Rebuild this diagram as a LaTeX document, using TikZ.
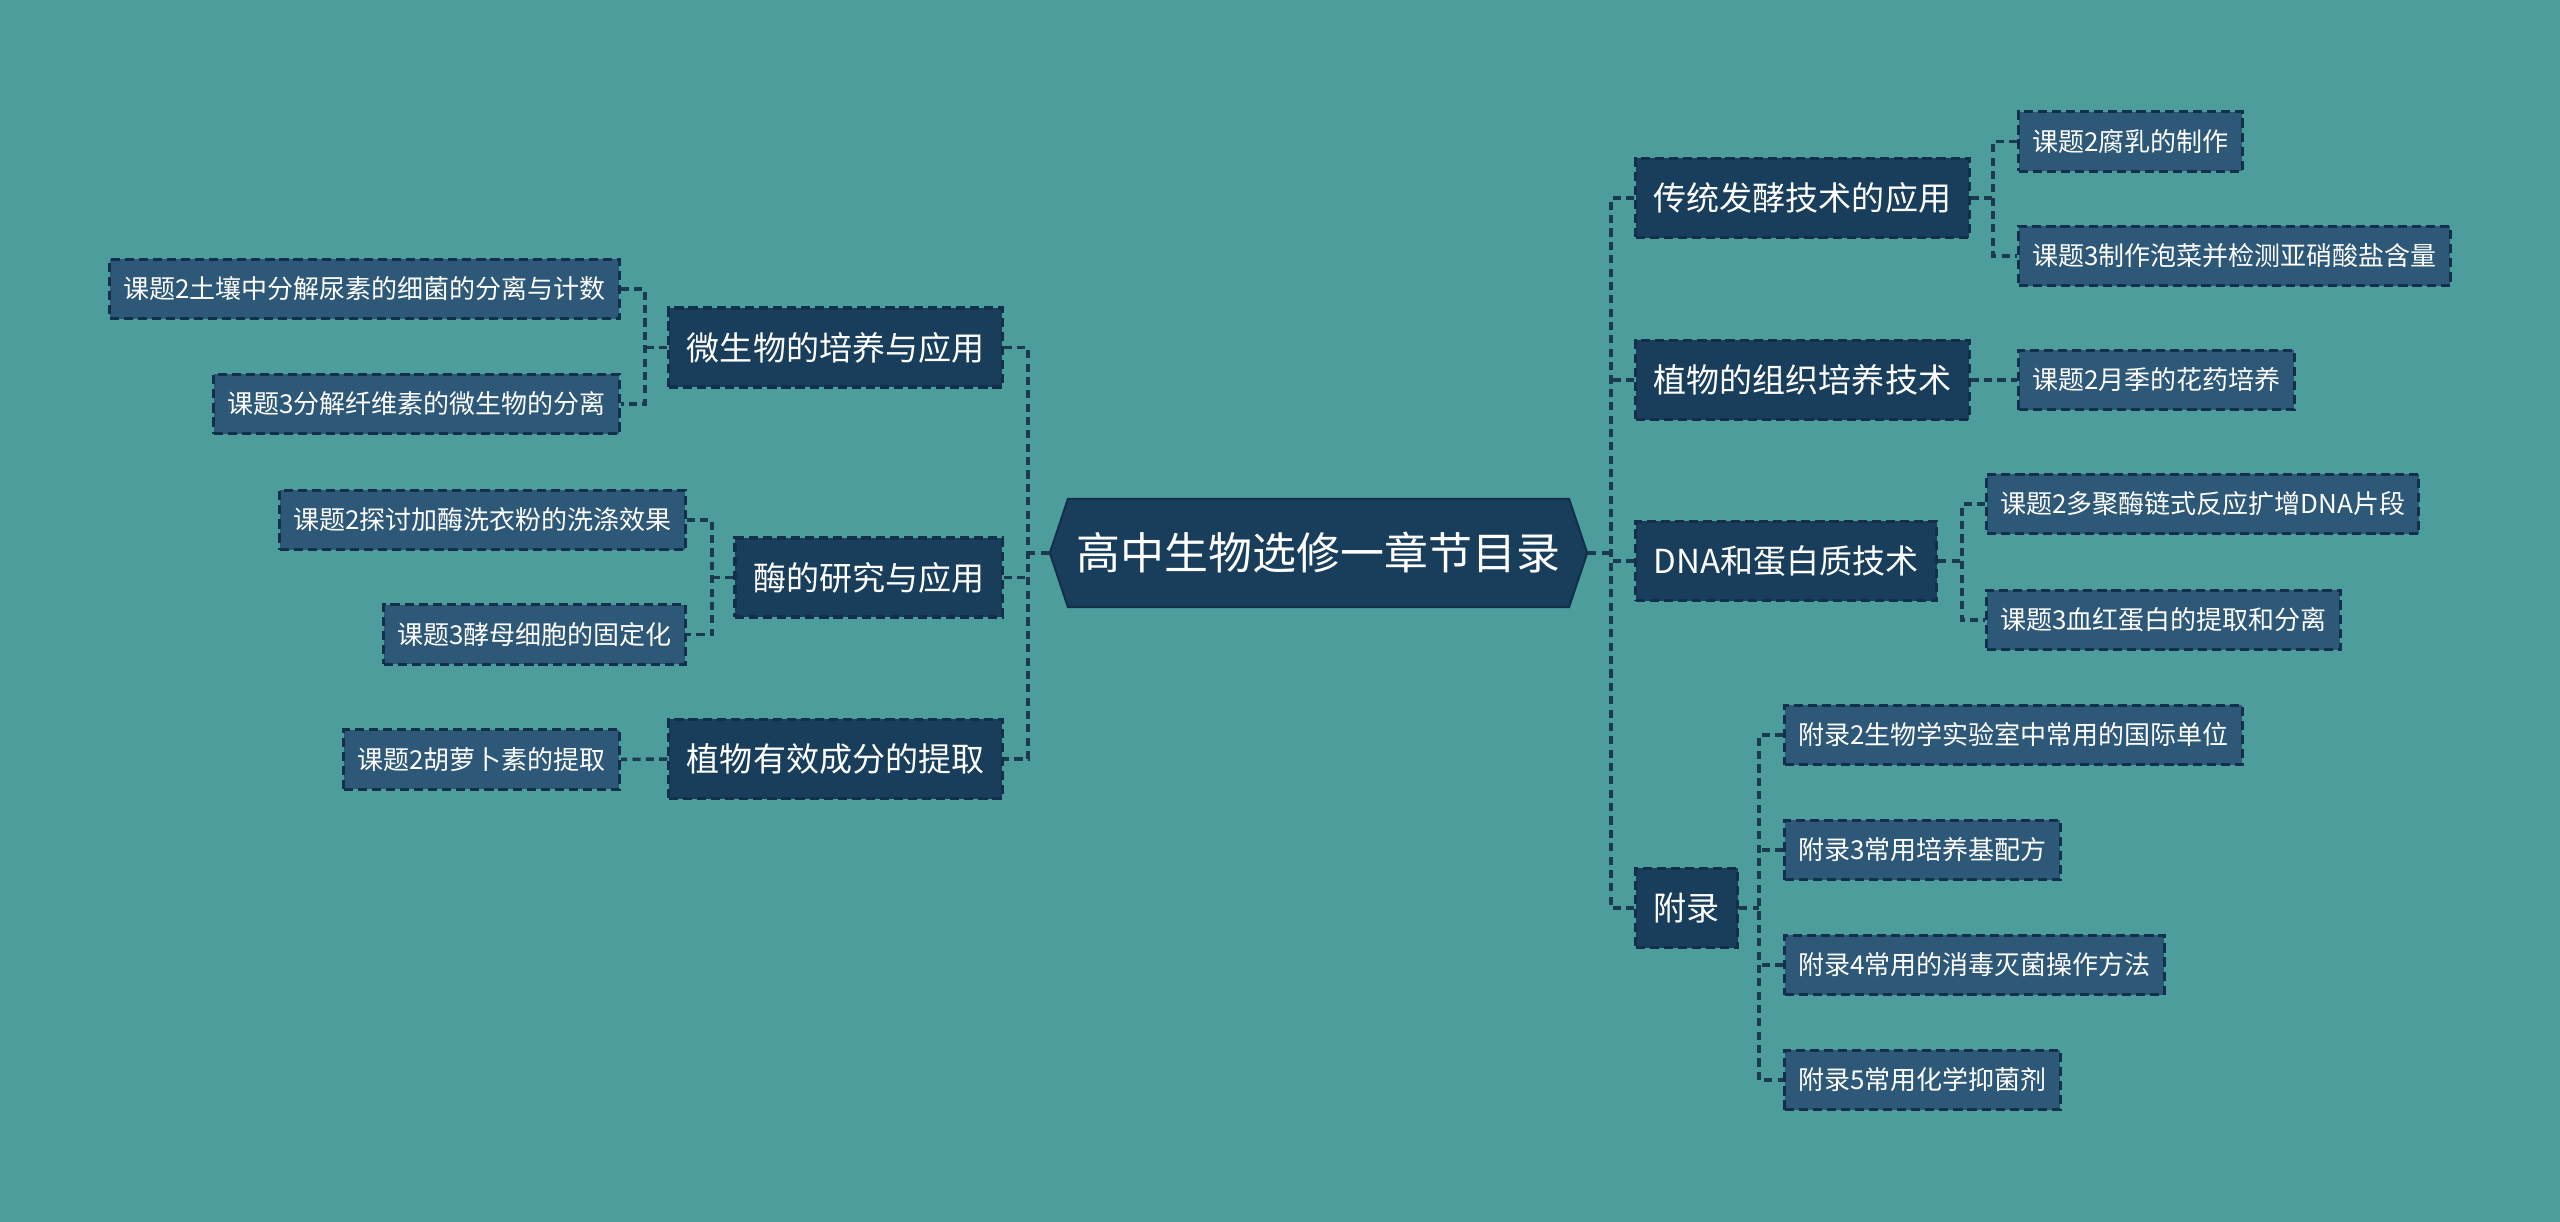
\documentclass[tikz,border=0pt]{standalone}
\usepackage{fontspec}
\setmainfont{Noto Sans CJK SC}
\usetikzlibrary{shapes.symbols}

\definecolor{bgteal}{HTML}{4E9D9D}
\definecolor{topicfill}{HTML}{183E5C}
\definecolor{leaffill}{HTML}{2D5878}
\definecolor{edgecol}{HTML}{12304A}
\definecolor{linkcol}{HTML}{1B3A50}

\tikzset{
  link/.style={draw=linkcol, line width=1pt, dash pattern=on 2.3pt off 1.5pt},
  rootbox/.style={signal, signal to=west and east, signal pointer angle=143,
    fill=topicfill, draw=edgecol, line width=0.6pt, text=white,
    minimum width=5.37cm, minimum height=1.08cm, inner sep=0pt,
    font=\fontsize{12.5pt}{15pt}\selectfont},
  topic/.style={rectangle, fill=topicfill, draw=edgecol, line width=0.9pt,
    dash pattern=on 2.6pt off 1.4pt, text=white,
    minimum height=0.79cm, inner xsep=0.18cm, inner ysep=0pt,
    font=\fontsize{9.4pt}{11pt}\selectfont},
  leaf/.style={rectangle, fill=leaffill, draw=edgecol, line width=0.9pt,
    dash pattern=on 2.6pt off 1.4pt, text=white,
    minimum height=0.595cm, inner xsep=0.135cm, inner ysep=0pt,
    font=\fontsize{7.4pt}{9pt}\selectfont}
}

\begin{document}
\begin{tikzpicture}[x=0.01cm, y=-0.01cm]
    % Background
    \fill[bgteal] (0,0) rectangle (2560,1222);
    \useasboundingbox (0,0) rectangle (2560,1222);

    % Central topic
    \node[rootbox] (root) at (1318.5,553) {高中生物选修一章节目录};

    % Right branches
    \node[topic, anchor=west] (tf) at (1634,198) {传统发酵技术的应用};
    \node[topic, anchor=west] (zw) at (1634,380) {植物的组织培养技术};
    \node[topic, anchor=west] (dna) at (1634,561) {DNA和蛋白质技术};
    \node[topic, anchor=west] (fl) at (1634,908) {附录};

    \node[leaf, anchor=west] (t1) at (2017,141.5) {课题2腐乳的制作};
    \node[leaf, anchor=west] (t2) at (2017,256) {课题3制作泡菜并检测亚硝酸盐含量};
    \node[leaf, anchor=west] (z1) at (2017,380) {课题2月季的花药培养};
    \node[leaf, anchor=west] (d1) at (1985,504) {课题2多聚酶链式反应扩增DNA片段};
    \node[leaf, anchor=west] (d2) at (1985,620) {课题3血红蛋白的提取和分离};
    \node[leaf, anchor=west] (f1) at (1783,735) {附录2生物学实验室中常用的国际单位};
    \node[leaf, anchor=west] (f2) at (1783,850) {附录3常用培养基配方};
    \node[leaf, anchor=west] (f3) at (1783,965) {附录4常用的消毒灭菌操作方法};
    \node[leaf, anchor=west] (f4) at (1783,1080) {附录5常用化学抑菌剂};

    % Left branches
    \node[topic, anchor=east] (ws) at (1004,347.5) {微生物的培养与应用};
    \node[topic, anchor=east] (mei) at (1004,577.5) {酶的研究与应用};
    \node[topic, anchor=east] (zwyx) at (1004,759) {植物有效成分的提取};

    \node[leaf, anchor=east] (w1) at (621,289) {课题2土壤中分解尿素的细菌的分离与计数};
    \node[leaf, anchor=east] (w2) at (621,404) {课题3分解纤维素的微生物的分离};
    \node[leaf, anchor=east] (m1) at (687,520) {课题2探讨加酶洗衣粉的洗涤效果};
    \node[leaf, anchor=east] (m2) at (687,634.5) {课题3酵母细胞的固定化};
    \node[leaf, anchor=east] (y1) at (621,759.5) {课题2胡萝卜素的提取};

    % Right connectors
    \draw[link] (tf.west) -- ++(-23,0) coordinate (rj) |- (fl.west);
    \draw[link] (zw.west) -- (zw.west -| rj);
    \draw[link] (dna.west) -- (dna.west -| rj);
    \draw[link] (root.east) -- (root.east -| rj);

    \draw[link] (t1.west) -- ++(-24,0) coordinate (tj) |- (t2.west);
    \draw[link] (tf.east) -- (tf.east -| tj);
    \draw[link] (zw.east) -- (z1.west);
    \draw[link] (d1.west) -- ++(-23,0) coordinate (dj) |- (d2.west);
    \draw[link] (dna.east) -- (dna.east -| dj);
    \draw[link] (f1.west) -- ++(-24,0) coordinate (fj) |- (f4.west);
    \draw[link] (f2.west) -- (f2.west -| fj);
    \draw[link] (f3.west) -- (f3.west -| fj);
    \draw[link] (fl.east) -- (fl.east -| fj);

    % Left connectors
    \draw[link] (ws.east) -- ++(24,0) coordinate (lj) |- (zwyx.east);
    \draw[link] (mei.east) -- (mei.east -| lj);
    \draw[link] (root.west) -- (root.west -| lj);

    \draw[link] (w1.east) -- ++(24,0) coordinate (wj) |- (w2.east);
    \draw[link] (ws.west) -- (ws.west -| wj);
    \draw[link] (m1.east) -- ++(25,0) coordinate (mj) |- (m2.east);
    \draw[link] (mei.west) -- (mei.west -| mj);
    \draw[link] (zwyx.west) -- (y1.east);
\end{tikzpicture}
\end{document}
